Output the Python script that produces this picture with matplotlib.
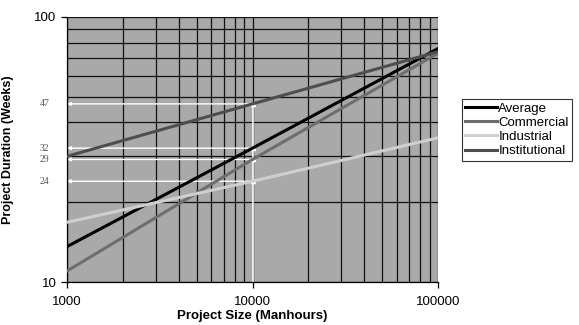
import matplotlib.pyplot as plt
from matplotlib.ticker import LogLocator, NullFormatter, FixedLocator, FixedFormatter
from matplotlib.transforms import blended_transform_factory

# Project duration (weeks) against project size (manhours), log-log
sizes = [1000, 10000, 100000]
average = [13.6, 32, 76]
commercial = [11.0, 29, 73]
industrial = [16.8, 24, 35]
institutional = [29.8, 47, 74]

series_names = ["Average", "Commercial", "Industrial", "Institutional"]
series_values = [average, commercial, industrial, institutional]
series_colors = ["#000000", "#6e6e6e", "#cfcfcf", "#4e4e4e"]

marked_size = 10000
marked_values = [47, 32, 29, 24]

plt.rcParams["font.family"] = ["Liberation Sans", "DejaVu Sans"]

fig = plt.figure(figsize=(5.79, 3.25), dpi=100)
ax = fig.add_axes([0.1157, 0.1323, 0.6408, 0.8154])
ax.set_facecolor("#a9a9a9")

ax.set_xscale("log")
ax.set_yscale("log")
ax.set_xlim(1000, 100000)
ax.set_ylim(10, 100)

ax.xaxis.set_major_locator(FixedLocator([1000, 10000, 100000]))
ax.xaxis.set_major_formatter(FixedFormatter(["1000", "10000", "100000"]))
ax.xaxis.set_minor_locator(LogLocator(base=10, subs=range(2, 10)))
ax.xaxis.set_minor_formatter(NullFormatter())
ax.yaxis.set_major_locator(FixedLocator([10, 100]))
ax.yaxis.set_major_formatter(FixedFormatter(["10", "100"]))
ax.yaxis.set_minor_locator(LogLocator(base=10, subs=range(2, 10)))
ax.yaxis.set_minor_formatter(NullFormatter())

ax.grid(True, which="both", color="#111111", linewidth=0.9)
ax.set_axisbelow(True)
ax.tick_params(which="major", direction="out", length=4, width=0.9, labelsize=9.5)
ax.tick_params(which="minor", length=0)
ax.tick_params(axis="x", pad=6)

for side in ["top", "right"]:
    ax.spines[side].set_visible(False)
for side in ["left", "bottom"]:
    ax.spines[side].set_color("black")
    ax.spines[side].set_linewidth(0.9)

# White reference lines at 10,000 manhours
ax.plot([marked_size, marked_size], [10, max(marked_values)], color="white",
        linewidth=1.2, zorder=2, clip_on=False)
label_tf = blended_transform_factory(ax.transAxes, ax.transData)
for v in marked_values:
    ax.annotate("", xy=(1000, v), xytext=(marked_size, v),
                arrowprops=dict(arrowstyle="-|>", color="white", lw=1.0,
                                mutation_scale=5, shrinkA=0, shrinkB=0),
                zorder=2)
    ax.plot([marked_size], [v], marker="^", color="white", markersize=3, zorder=2)
    ax.text(-0.06, v, str(v), transform=label_tf, ha="center", va="center",
            fontsize=7, family=["Liberation Serif", "DejaVu Serif"], color="#555555")

for name, vals, col in zip(series_names, series_values, series_colors):
    ax.plot(sizes, vals, color=col, linewidth=2.2, label=name, zorder=3)

ax.set_xlabel("Project Size (Manhours)", fontsize=9.5, fontweight="bold")
ax.xaxis.set_label_coords(0.5, -0.105)
ax.set_ylabel("Project Duration (Weeks)", fontsize=9, fontweight="bold")
ax.yaxis.set_label_coords(-0.143, 0.5)

leg = ax.legend(loc="upper left", bbox_to_anchor=(1.065, 0.69), frameon=True,
                fancybox=False, edgecolor="black", fontsize=9.5,
                handlelength=2.4, handletextpad=0.1, borderpad=0.25,
                labelspacing=0.15, borderaxespad=0)
leg.get_frame().set_linewidth(0.8)

fig.savefig("out.png", dpi=100)
